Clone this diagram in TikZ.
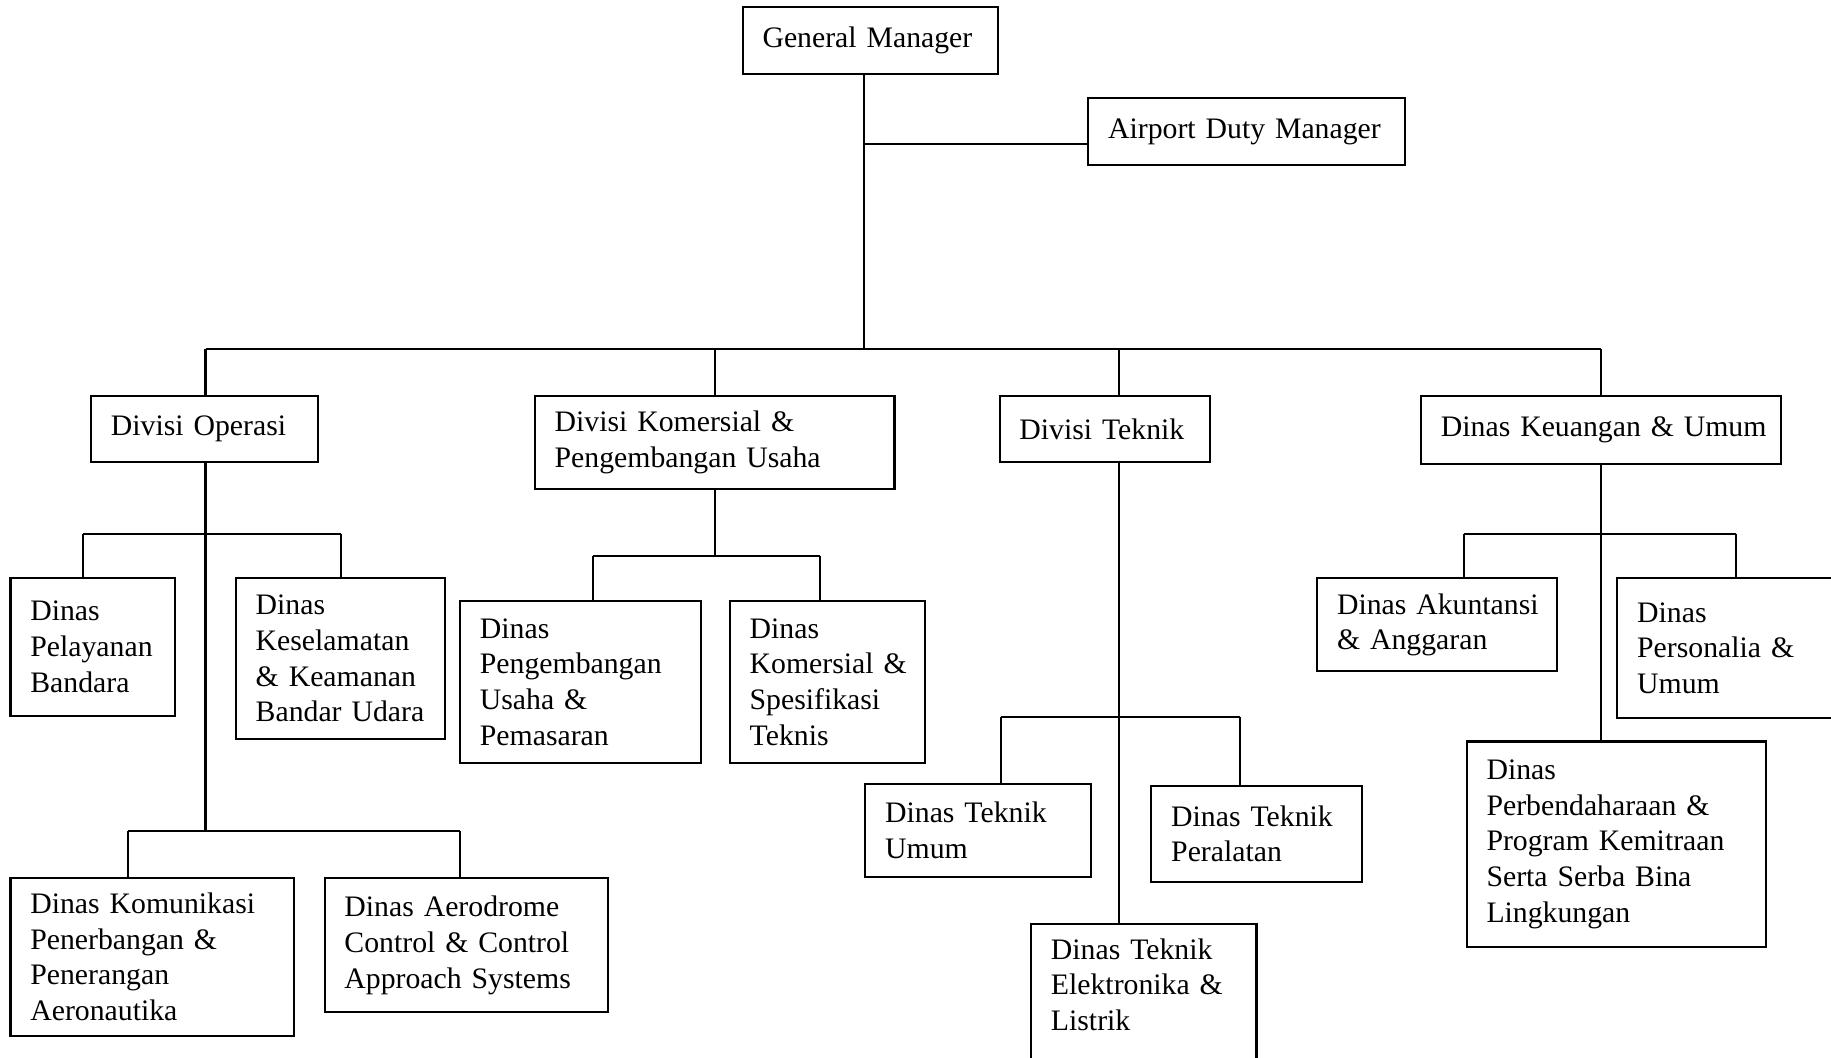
\documentclass[tikz,border=0pt]{standalone}
\usepackage{fontspec}
\setmainfont{Liberation Serif}
\hyphenpenalty=10000
\exhyphenpenalty=10000
\tikzset{
  orgbox/.style={draw, line width=1pt, rectangle, inner sep=0pt, align=left,
    font=\fontsize{14.5}{17.4}\selectfont},
  link/.style={line width=1pt}
}
\newcommand{\orgnode}[6]{%
  \pgfmathsetmacro{\ocBW}{(#4-#2)*0.02}%
  \pgfmathsetmacro{\ocBH}{(#5-#3)*0.02}%
  \pgfmathsetmacro{\ocTW}{(#4-#2-34)*0.02}%
  \pgfmathsetmacro{\ocCX}{(#2+#4)/2}%
  \pgfmathsetmacro{\ocCY}{(#3+#5)/2}%
  \node[orgbox, minimum width=\ocBW cm, minimum height=\ocBH cm, text width=\ocTW cm] (#1) at (\ocCX,\ocCY) {#6};%
}
\begin{document}
\begin{tikzpicture}[x=0.02cm, y=-0.02cm]
\fill[white] (0,0) rectangle (1568,906);
\clip (0,0) rectangle (1568,906);
\useasboundingbox (0,0) rectangle (1568,906);

% top level
\orgnode{gm}{636}{6}{855}{63}{General~Manager}
\orgnode{adm}{932}{84}{1203}{141}{Airport~Duty~Manager}

% divisions
\orgnode{dop}{78}{339}{272}{396}{Divisi~Operasi}
\orgnode{dkom}{458}{339}{766}{419}{Divisi~Komersial~\&\\Pengembangan~Usaha}
\orgnode{dtek}{856}{339}{1036}{396}{Divisi~Teknik}
\orgnode{dkeu}{1217}{339}{1525}{397}{Dinas~Keuangan~\&~Umum}

% under Divisi Operasi
\orgnode{dpel}{9}{495}{150}{613}{Dinas\\Pelayanan\\Bandara}
\orgnode{dkes}{202}{495}{381}{633}{Dinas\\Keselamatan\\\&~Keamanan\\Bandar~Udara}
\orgnode{dkomu}{9}{752}{252}{887}{Dinas~Komunikasi\\Penerbangan~\&\\Penerangan\\Aeronautika}
\orgnode{daer}{278}{752}{521}{867}{Dinas~Aerodrome\\Control~\&~Control\\Approach~Systems}

% under Divisi Komersial
\orgnode{dpeng}{394}{515}{600}{653}{Dinas\\Pengembangan\\Usaha~\&\\Pemasaran}
\orgnode{dspes}{625}{515}{792}{653}{Dinas\\Komersial~\&\\Spesifikasi\\Teknis}

% under Divisi Teknik
\orgnode{dtu}{741}{671}{934}{751}{Dinas~Teknik\\Umum}
\orgnode{dtp}{986}{673}{1166}{755}{Dinas~Teknik\\Peralatan}
\orgnode{dtel}{883}{791}{1076}{935}{Dinas~Teknik\\Elektronika~\&\\Listrik\\\strut}

% under Dinas Keuangan
\orgnode{dakun}{1128}{495}{1333}{575}{Dinas~Akuntansi\\\&~Anggaran}
\orgnode{dpers}{1385}{495}{1600}{615}{Dinas\\Personalia~\&\\Umum}
\orgnode{dperb}{1256}{635}{1512}{811}{Dinas\\Perbendaharaan~\&\\Program~Kemitraan\\Serta~Serba~Bina\\Lingkungan}

% junction coordinates
\coordinate (trunk) at (740,299);
\coordinate (ja) at (740,123);
\coordinate (busL) at (176,299);
\coordinate (busK) at (612,299);
\coordinate (busT) at (958,299);
\coordinate (busR) at (1371,299);

% GM trunk and ADM branch
\draw[link] (gm.south -| trunk) -- (trunk);
\draw[link] (ja) -- (ja -| adm.west);
\draw[link] (busL) -- (busR);
\draw[link] (busL) -- (busL |- dop.north);
\draw[link] (busK) -- (busK |- dkom.north);
\draw[link] (busT) -- (busT |- dtek.north);
\draw[link] (busR) -- (busR |- dkeu.north);

% Divisi Operasi subtree
\coordinate (o1) at (176,457);
\coordinate (o1l) at (71,457);
\coordinate (o1r) at (292,457);
\coordinate (o2) at (176,712);
\coordinate (o2l) at (110,712);
\coordinate (o2r) at (394,712);
\draw[link] (dop.south -| o2) -- (o2);
\draw[link] (o1l) -- (o1r);
\draw[link] (o1l) -- (o1l |- dpel.north);
\draw[link] (o1r) -- (o1r |- dkes.north);
\draw[link] (o2l) -- (o2r);
\draw[link] (o2l) -- (o2l |- dkomu.north);
\draw[link] (o2r) -- (o2r |- daer.north);

% Divisi Komersial subtree
\coordinate (k1) at (612,476);
\coordinate (k1l) at (508,476);
\coordinate (k1r) at (702,476);
\draw[link] (dkom.south -| k1) -- (k1);
\draw[link] (k1l) -- (k1r);
\draw[link] (k1l) -- (k1l |- dpeng.north);
\draw[link] (k1r) -- (k1r |- dspes.north);

% Divisi Teknik subtree
\coordinate (t1) at (958,614);
\coordinate (t1l) at (857,614);
\coordinate (t1r) at (1062,614);
\draw[link] (dtek.south -| t1) -- (t1 |- dtel.north);
\draw[link] (t1l) -- (t1r);
\draw[link] (t1l) -- (t1l |- dtu.north);
\draw[link] (t1r) -- (t1r |- dtp.north);

% Dinas Keuangan subtree
\coordinate (u1) at (1371,457);
\coordinate (u1l) at (1254,457);
\coordinate (u1r) at (1487,457);
\draw[link] (dkeu.south -| u1) -- (u1 |- dperb.north);
\draw[link] (u1l) -- (u1r);
\draw[link] (u1l) -- (u1l |- dakun.north);
\draw[link] (u1r) -- (u1r |- dpers.north);
\end{tikzpicture}
\end{document}
